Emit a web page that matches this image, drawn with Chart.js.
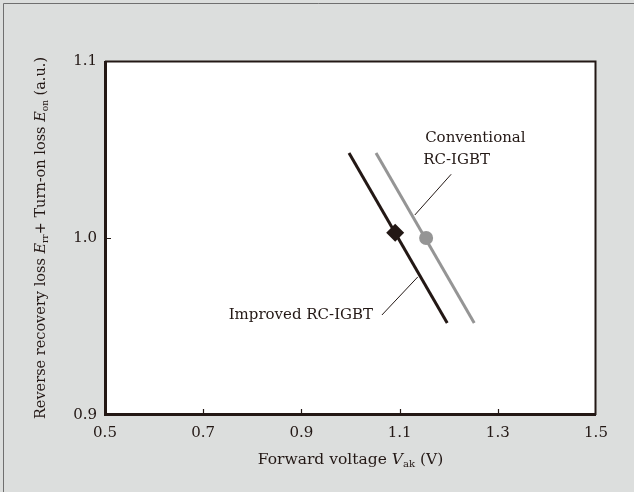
<!DOCTYPE html>
<html>
<head>
<meta charset="utf-8">
<script src="https://cdn.jsdelivr.net/npm/chart.js@4.4.1/dist/chart.umd.min.js"></script>
<style>
html,body{margin:0;padding:0;background:#dcdedd;}
#wrap{position:relative;width:634px;height:492px;}
canvas{display:block;}
</style>
</head>
<body>
<div id="wrap"><canvas id="c" width="634" height="492"></canvas></div>
<script>
// ---- data ----
const xTicks = [0.5, 0.7, 0.9, 1.1, 1.3, 1.5];
const yTicks = [0.9, 1.0, 1.1];
const improvedLineX = [0.997, 1.197];
const improvedLineY = [1.048, 0.952];
const conventionalLineX = [1.052, 1.252];
const conventionalLineY = [1.048, 0.952];
const improvedPointX = [1.091];
const improvedPointY = [1.003];
const conventionalPointX = [1.154];
const conventionalPointY = [1.000];
const conventionalLeaderX = [1.205, 1.131];
const conventionalLeaderY = [1.036, 1.013];
const improvedLeaderX = [1.137, 1.064];
const improvedLeaderY = [0.978, 0.9565];
const seriesNames = ['Improved RC-IGBT', 'Conventional RC-IGBT'];

const zip = (xs, ys) => xs.map((x, i) => ({x: x, y: ys[i]}));

const INK = '#231815';
const GREY = '#959595';
const FONT = '"DejaVu Serif", serif';

const frame = {
  id: 'frame',
  beforeDraw(chart) {
    const ctx = chart.ctx;
    ctx.save();
    ctx.fillStyle = '#dcdedd';
    ctx.fillRect(0, 0, chart.width, chart.height);
    ctx.strokeStyle = '#6f6f6f';
    ctx.lineWidth = 1;
    ctx.beginPath();
    ctx.moveTo(3.5, chart.height);
    ctx.lineTo(3.5, 3.5);
    ctx.lineTo(chart.width, 3.5);
    ctx.stroke();
    const a = chart.chartArea;
    ctx.fillStyle = '#ffffff';
    ctx.fillRect(a.left, a.top, a.right - a.left, a.bottom - a.top);
    ctx.restore();
  },
  afterDatasetsDraw(chart) {
    const ctx = chart.ctx, a = chart.chartArea;
    const xs = chart.scales.x, ys = chart.scales.y;
    ctx.save();
    // box
    ctx.strokeStyle = INK;
    ctx.lineWidth = 2;
    ctx.beginPath();
    ctx.moveTo(a.left, a.top + 0.5);
    ctx.lineTo(a.right - 0.5, a.top + 0.5);
    ctx.lineTo(a.right - 0.5, a.bottom);
    ctx.stroke();
    ctx.lineWidth = 3;
    ctx.beginPath();
    ctx.moveTo(a.left + 0.5, a.top);
    ctx.lineTo(a.left + 0.5, a.bottom - 0.5);
    ctx.lineTo(a.right, a.bottom - 0.5);
    ctx.stroke();
    // inward ticks
    ctx.lineWidth = 1.2;
    ctx.beginPath();
    xTicks.forEach(v => {
      if (v === xTicks[0] || v === xTicks[xTicks.length - 1]) return;
      const px = Math.round(xs.getPixelForValue(v)) + 0.5;
      ctx.moveTo(px, a.bottom);
      ctx.lineTo(px, a.bottom - 6);
    });
    yTicks.forEach(v => {
      if (v === yTicks[0] || v === yTicks[yTicks.length - 1]) return;
      const py = Math.round(ys.getPixelForValue(v)) + 0.5;
      ctx.moveTo(a.left, py);
      ctx.lineTo(a.left + 6, py);
    });
    ctx.stroke();

    // annotation labels
    ctx.fillStyle = INK;
    ctx.font = '15px ' + FONT;
    ctx.textBaseline = 'middle';
    ctx.textAlign = 'left';
    ctx.fillText('Conventional', xs.getPixelForValue(1.152), ys.getPixelForValue(1.0565));
    ctx.fillText('RC-IGBT', xs.getPixelForValue(1.148), ys.getPixelForValue(1.044));
    ctx.textAlign = 'right';
    ctx.fillText(seriesNames[0], xs.getPixelForValue(1.046), ys.getPixelForValue(0.9565));

    // axis titles with italic symbols and subscripts
    const drawRuns = (runs, x, y) => {
      let cx = x;
      runs.forEach(r => {
        ctx.font = r.f;
        ctx.fillText(r.t, cx, y + (r.dy || 0));
        cx += ctx.measureText(r.t).width;
      });
    };
    const measureRuns = runs => runs.reduce((s, r) => { ctx.font = r.f; return s + ctx.measureText(r.t).width; }, 0);
    ctx.textAlign = 'left';
    ctx.textBaseline = 'alphabetic';
    const xRuns = [
      {t: 'Forward voltage ', f: '15.5px ' + FONT},
      {t: 'V', f: 'italic 15.5px ' + FONT},
      {t: 'ak', f: '10px ' + FONT, dy: 3},
      {t: ' (V)', f: '15.5px ' + FONT}
    ];
    const xw = measureRuns(xRuns);
    drawRuns(xRuns, (a.left + a.right) / 2 - xw / 2, 464);

    const yRuns = [
      {t: 'Reverse recovery loss ', f: '14.5px ' + FONT},
      {t: 'E', f: 'italic 14.5px ' + FONT},
      {t: 'rr', f: '9px ' + FONT, dy: 3},
      {t: '+ Turn-on loss ', f: '14.5px ' + FONT},
      {t: 'E', f: 'italic 14.5px ' + FONT},
      {t: 'on', f: '9px ' + FONT, dy: 3},
      {t: ' (a.u.)', f: '14.5px ' + FONT}
    ];
    const yw = measureRuns(yRuns);
    ctx.translate(45, (a.top + a.bottom) / 2);
    ctx.rotate(-Math.PI / 2);
    drawRuns(yRuns, -yw / 2, 0);
    ctx.restore();
  }
};

new Chart(document.getElementById('c'), {
  type: 'scatter',
  data: {
    datasets: [
      {label: seriesNames[0], data: zip(improvedLineX, improvedLineY), showLine: true,
       borderColor: INK, borderWidth: 3, pointRadius: 0, order: 2},
      {label: seriesNames[1], data: zip(conventionalLineX, conventionalLineY), showLine: true,
       borderColor: GREY, borderWidth: 3, pointRadius: 0, order: 3},
      {label: seriesNames[0] + ' point', data: zip(improvedPointX, improvedPointY),
       pointStyle: 'rectRot', pointRadius: 9, backgroundColor: INK, borderColor: INK, borderWidth: 0, order: 0},
      {label: seriesNames[1] + ' point', data: zip(conventionalPointX, conventionalPointY),
       pointStyle: 'circle', pointRadius: 7, backgroundColor: GREY, borderColor: GREY, borderWidth: 0, order: 1},
      {label: 'leader1', data: zip(conventionalLeaderX, conventionalLeaderY), showLine: true,
       borderColor: INK, borderWidth: 1, pointRadius: 0, order: 4},
      {label: 'leader2', data: zip(improvedLeaderX, improvedLeaderY), showLine: true,
       borderColor: INK, borderWidth: 1, pointRadius: 0, order: 4}
    ]
  },
  options: {
    responsive: false,
    animation: false,
    events: [],
    layout: {padding: {left: 0, right: 38, top: 61, bottom: 0}},
    plugins: {legend: {display: false}, tooltip: {enabled: false}},
    scales: {
      x: {
        type: 'linear', min: xTicks[0], max: xTicks[xTicks.length - 1],
        afterBuildTicks: s => { s.ticks = xTicks.map(v => ({value: v})); },
        afterFit: s => { s.height = 77; },
        grid: {display: false, drawTicks: false},
        border: {display: false},
        ticks: {padding: 9, color: INK, font: {family: FONT, size: 15},
                callback: v => v.toFixed(1), maxRotation: 0, autoSkip: false}
      },
      y: {
        type: 'linear', min: yTicks[0], max: yTicks[yTicks.length - 1],
        afterBuildTicks: s => { s.ticks = yTicks.map(v => ({value: v})); },
        afterFit: s => { s.width = 105; },
        grid: {display: false, drawTicks: false},
        border: {display: false},
        ticks: {padding: 8, color: INK, font: {family: FONT, size: 15},
                callback: v => v.toFixed(1)}
      }
    }
  },
  plugins: [frame]
});
</script>
</body>
</html>
